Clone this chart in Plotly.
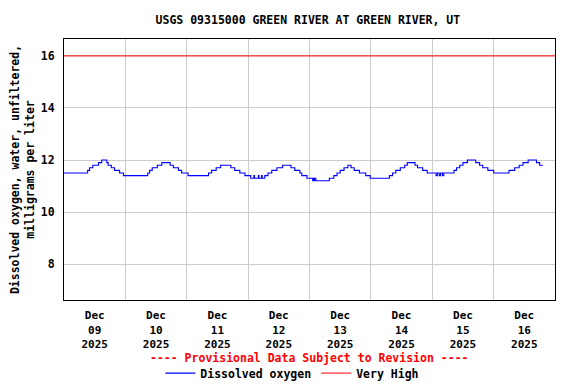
import pandas as pd
import plotly.graph_objects as go

# ---- data (hours after 2025-12-09 00:00, value starts at that hour; stepwise) ----
START = "2025-12-09 00:00"
END = "2025-12-17 00:00"
obs_hours = [
    0, 9.25, 10.0, 11.25, 13.5, 14.75, 16.75, 17.25, 18.5, 19.75, 21.75, 23.25,
    32.75, 33.5, 34.5, 36.5, 38.25, 41.5, 42.75, 44.75, 46, 48.5,
    56.5, 57.75, 59.5, 61.25, 65.25, 66.75, 68.75, 70.75,
    73, 74.25, 74.5, 76, 76.25, 77.25, 77.5, 78.5,
    79.75, 81.25, 83.25, 85.5, 88.75, 90.25, 92.25, 93, 95,
    97.25, 97.5, 97.75, 98, 98.5,
    103.75, 105.5, 106.75, 108, 109.5, 111, 112.25, 113.5, 115.5, 118, 119.75,
    127.25, 128.5, 129.75, 131.5, 133.25, 134.25, 137.25, 138.25, 140.25, 142,
    145.5, 146, 146.75, 147.25, 148, 148.5,
    152.5, 153.5, 154.75, 156, 157.75, 161, 162.5, 163.75, 165.75, 168,
    174, 176.25, 178, 179.5, 181.5, 184.75, 186, 187.25,
]
dissolved_oxygen = [
    11.5, 11.6, 11.7, 11.8, 11.9, 12.0, 11.9, 11.8, 11.7, 11.6, 11.5, 11.4,
    11.5, 11.6, 11.7, 11.8, 11.9, 11.8, 11.7, 11.6, 11.5, 11.4,
    11.5, 11.6, 11.7, 11.8, 11.7, 11.6, 11.5, 11.4,
    11.3, 11.4, 11.3, 11.4, 11.3, 11.4, 11.3, 11.4,
    11.5, 11.6, 11.7, 11.8, 11.7, 11.6, 11.5, 11.4, 11.3,
    11.2, 11.3, 11.2, 11.3, 11.2,
    11.3, 11.4, 11.5, 11.6, 11.7, 11.8, 11.7, 11.6, 11.5, 11.4, 11.3,
    11.4, 11.5, 11.6, 11.7, 11.8, 11.9, 11.8, 11.7, 11.6, 11.5,
    11.4, 11.5, 11.4, 11.5, 11.4, 11.5,
    11.6, 11.7, 11.8, 11.9, 12.0, 11.9, 11.8, 11.7, 11.6, 11.5,
    11.6, 11.7, 11.8, 11.9, 12.0, 11.9, 11.8, 11.8,
]
very_high = 16.0
day_labels = ["09", "10", "11", "12", "13", "14", "15", "16"]
y_ticks = [8, 10, 12, 14, 16]

t0 = pd.Timestamp(START)
times = [t0 + pd.to_timedelta(h, unit="h") for h in obs_hours]
days = pd.date_range(START, END, freq="D")
noon = [d + pd.Timedelta(hours=12) for d in days[:-1]]
tick_text = [f"Dec<br>{d}<br>2025" for d in day_labels]

FONT = "DejaVu Sans Mono"

fig = go.Figure()
fig.add_trace(go.Scatter(
    x=times, y=dissolved_oxygen, mode="lines", line_shape="hv",
    line=dict(color="#0000ff", width=1.1), name="Dissolved oxygen",
))
fig.add_trace(go.Scatter(
    x=[days[0], days[-1]], y=[very_high, very_high], mode="lines",
    line=dict(color="#ff0000", width=1), name="Very High",
))

# page body has an 8px margin, so the figure is 8px smaller and shifted
fig.update_layout(
    width=568, height=376,
    margin=dict(l=56, r=21, t=31, b=84, autoexpand=False),
    paper_bgcolor="white", plot_bgcolor="white",
    font=dict(family=FONT, size=11.5, color="black", weight="bold"),
    title=dict(text="USGS 09315000 GREEN RIVER AT GREEN RIVER, UT",
               x=0.528, xanchor="center", y=0.968, yanchor="middle",
               font=dict(family=FONT, size=11.5, weight="bold")),
    showlegend=True,
    legend=dict(orientation="h", x=0.465, xanchor="center", y=-0.28,
                yanchor="middle", font=dict(family=FONT, size=11.5, weight="bold"),
                bgcolor="rgba(0,0,0,0)", itemwidth=30, tracegroupgap=0),
    xaxis=dict(
        range=[days[0], days[-1]], tickmode="array", tickvals=noon, ticktext=tick_text,
        showgrid=False, ticks="", showline=True, linecolor="black", linewidth=1,
        mirror=True, zeroline=False, automargin=False, ticklabelstandoff=5,
        tickfont=dict(family=FONT, size=11, weight="bold"),
        minor=dict(tickmode="array", tickvals=list(days[1:-1]), showgrid=True,
                   gridcolor="#cccccc", gridwidth=1, ticks=""),
    ),
    yaxis=dict(
        range=[6.62, 16.65], tickmode="array", tickvals=y_ticks,
        showgrid=True, gridcolor="#cccccc", gridwidth=1, ticks="",
        showline=True, linecolor="black", linewidth=1, mirror=True, zeroline=False,
        automargin=False,
        title=dict(text="Dissolved oxygen, water, unfiltered,<br>milligrams per liter",
                   font=dict(family=FONT, size=11.5, weight="bold"), standoff=12),
        ticklabelstandoff=6,
    ),
    annotations=[dict(
        text="---- Provisional Data Subject to Revision ----", xref="paper", yref="paper",
        x=0.5, y=-0.222, xanchor="center", yanchor="middle", showarrow=False,
        font=dict(family=FONT, size=11.5, color="#ff0000", weight="bold"),
    )],
)

fig.write_html("out.html")
